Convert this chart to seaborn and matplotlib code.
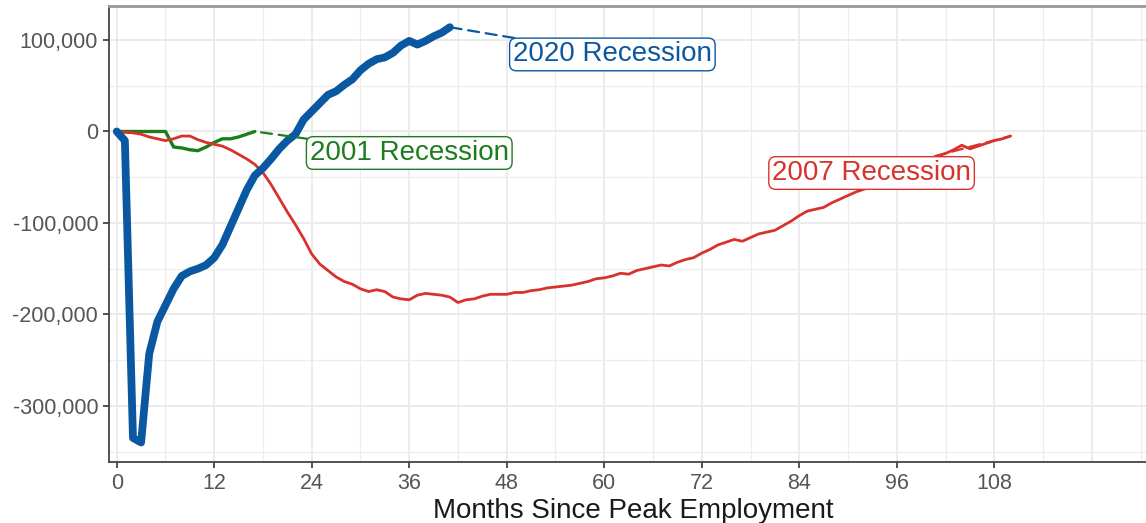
import pandas as pd
import matplotlib.pyplot as plt
import seaborn as sns
from matplotlib.ticker import FuncFormatter, MultipleLocator

# Jobs relative to peak employment, by month since the peak
jobs_2001 = [0, 0, 0, 0, 0, 0, 0, -17000, -18000, -20000, -21000, -17000,
             -12000, -8000, -8000, -6000, -3000, 0]

jobs_2007 = [0, -1000, -1500, -3000, -6000, -8000, -10000, -8000, -5000, -5000,
             -9000, -12000, -14000, -16000, -20000, -25000, -30000, -36000, -45000, -58000,
             -73000, -88000, -102000, -117000, -134000, -145000, -152000, -159000, -164000, -167000,
             -172000, -175000, -173000, -175000, -181000, -183000, -184000, -179000, -177000, -178000,
             -179000, -181000, -187000, -184000, -183000, -180000, -178000, -178000, -178000, -176000,
             -176000, -174000, -173000, -171000, -170000, -169000, -168000, -166000, -164000, -161000,
             -160000, -158000, -155000, -156000, -152000, -150000, -148000, -146000, -147000, -143000,
             -140000, -138000, -133000, -129000, -124000, -121000, -118000, -120000, -116000, -112000,
             -110000, -108000, -103000, -98000, -92000, -87000, -85000, -83000, -78000, -74000,
             -70000, -66000, -63000, -59000, -55000, -50000, -46000, -42000, -38000, -34000,
             -30000, -27000, -24000, -20000, -15000, -19000, -16000, -13000, -10000, -8000,
             -5000]

jobs_2020 = [0, -10000, -335000, -340000, -243000, -208000, -190000, -172000, -158000, -153000,
             -150000, -146000, -138000, -124000, -104000, -84000, -64000, -48000, -40000, -30000,
             -19000, -10000, -3000, 13000, 22000, 31000, 40000, 44000, 51000, 57000,
             67000, 74000, 79000, 81000, 86000, 94000, 99000, 95000, 99000, 104000,
             108000, 114000]

recessions = ["2001 Recession", "2007 Recession", "2020 Recession"]
series = [jobs_2001, jobs_2007, jobs_2020]

colors = {"2001 Recession": "#1d7d1d", "2007 Recession": "#d8322c", "2020 Recession": "#0b58a2"}
widths = {"2001 Recession": 2.4, "2007 Recession": 2.0, "2020 Recession": 5.6}
label_pos = {"2001 Recession": (36.0, -23500), "2007 Recession": (92.9, -45400),
             "2020 Recession": (61.0, 84200)}

frames = []
for name, vals in zip(recessions, series):
    frames.append(pd.DataFrame({"month": range(len(vals)), "jobs": vals, "recession": name}))
df = pd.concat(frames, ignore_index=True)

sns.set_theme(style="white")
plt.rcParams["font.family"] = ["Liberation Sans", "DejaVu Sans"]

fig = plt.figure(figsize=(11.46, 5.23), dpi=100)
ax = fig.add_axes([0.0954, 0.1172, 0.914, 0.8719])

for name in recessions:
    sub = df[df["recession"] == name]
    sns.lineplot(data=sub, x="month", y="jobs", color=colors[name], lw=widths[name],
                 ax=ax, solid_capstyle="round", solid_joinstyle="round", zorder=3)

# labels with dashed leader lines
for name in recessions:
    sub = df[df["recession"] == name]
    last = sub.iloc[-1]
    c = colors[name]
    ax.annotate(name, xy=(last["month"], last["jobs"]), xytext=label_pos[name],
                ha="center", va="center", fontsize=20, color=c, zorder=6,
                bbox=dict(boxstyle="round,pad=0.12,rounding_size=0.25", fc="white", ec=c, lw=1.0),
                arrowprops=dict(arrowstyle="-", color=c, lw=1.6, linestyle=(0, (5, 3)),
                                shrinkA=0, shrinkB=0))

ax.set_xlim(-0.91, 128)
ax.set_ylim(-361000, 137500)

ax.xaxis.set_major_locator(MultipleLocator(12))
ax.xaxis.set_minor_locator(MultipleLocator(6))
ax.yaxis.set_major_locator(MultipleLocator(100000))
ax.yaxis.set_minor_locator(MultipleLocator(50000))
ax.set_xticks(range(0, 109, 12))
ax.yaxis.set_major_formatter(FuncFormatter(lambda v, p: f"{int(v):,}"))

# grid lines at every 12 months plus the minor ones out to 120
ax.grid(which="major", color="#ebebeb", lw=1.4, zorder=0)
ax.grid(which="minor", color="#ededed", lw=0.9, zorder=0)
ax.axvline(120, color="#ebebeb", lw=1.4, zorder=0)
ax.set_axisbelow(True)

ax.tick_params(axis="both", which="major", labelsize=15.5, labelcolor="#555555",
               color="#333333", length=4, width=1.2, direction="out", pad=4)
ax.tick_params(axis="both", which="minor", length=0)
ax.tick_params(axis="x", bottom=True)
ax.tick_params(axis="y", left=True)

for side in ["left", "bottom"]:
    ax.spines[side].set_color("#444444")
    ax.spines[side].set_linewidth(1.3)
ax.spines["top"].set_color("#999999")
ax.spines["top"].set_linewidth(2.0)
ax.spines["right"].set_visible(False)

ax.set_xlabel("Months Since Peak Employment", fontsize=20, color="#1a1a1a", labelpad=3)
ax.set_ylabel("")

fig.savefig("out.png", dpi=100)
